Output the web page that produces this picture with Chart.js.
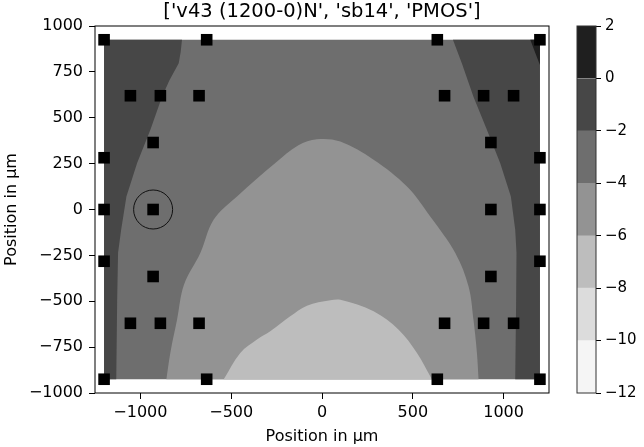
<!DOCTYPE html>
<html>
<head>
<meta charset="utf-8">
<script src="https://cdn.jsdelivr.net/npm/chart.js@4.4.0/dist/chart.umd.min.js"></script>
<style>
body { margin: 0; background: #fff; overflow: hidden; }
#wrap { position: relative; width: 644px; height: 447px; }
#wrap canvas { position: absolute; left: 0; top: 0; }
</style>
</head>
<body>
<div id="wrap">
  <canvas id="map" width="644" height="447"></canvas>
  <canvas id="bar" width="644" height="447"></canvas>
</div>
<script>
const titleText = "['v43 (1200-0)N', 'sb14', 'PMOS']";
const axisLabel = 'Position in µm';
const xTicks = [-1000, -500, 0, 500, 1000];
const yTicks = [-1000, -750, -500, -250, 0, 250, 500, 750, 1000];

// contour levels and the grey of each band (bottom band first)
const levels = [-12, -10, -8, -6, -4, -2, 0, 2];
const levelColors = ['#f5f5f5', '#dcdcdc', '#bdbdbd', '#939393', '#6e6e6e', '#474747', '#1f1f1f'];

// the measured field covers this rectangle
const fieldX = [-1200, 1200];
const fieldY = [-925, 925];

// contour lines, [x, y] in µm
const lineM2Left = [[-771, 925], [-778, 860], [-789, 797], [-840, 705], [-881, 615], [-945, 434], [-1018, 254],
  [-1077, 71], [-1106, -110], [-1123, -236], [-1128, -500], [-1133, -925]];
const lineM2Right = [[721, 925], [770, 797], [834, 615], [908, 434], [981, 254], [1040, 71],
  [1064, -110], [1071, -236], [1069, -500], [1064, -925]];
const line0Corner = [[1147, 925], [1200, 925], [1200, 788], [1172, 860]];
const lineM4 = [[-857, -925], [-835, -780], [-798, -600], [-760, -410], [-670, -237], [-597, -56],
  [-468, 71], [-257, 253], [-130, 350], [-28, 383], [101, 370], [284, 271], [468, 125],
  [596, -38], [734, -237], [807, -419], [834, -600], [853, -780], [862, -925]];
const lineM6 = [[-541, -925], [-450, -782], [-358, -709], [-285, -664], [-175, -582], [-83, -524],
  [46, -495], [101, -492], [284, -555], [422, -655], [523, -782], [596, -909], [605, -925]];

// sensor positions
const sensorX = [-1200, -635, 635, 1200,
  -1055, -890, -677, 675, 890, 1055,
  -930, 930,
  -1200, 1200,
  -1200, -930, 930, 1200,
  -1200, 1200,
  -930, 930,
  -1055, -890, -677, 675, 890, 1055,
  -1200, -635, 635, 1200];
const sensorY = [925, 925, 925, 925,
  620, 620, 620, 620, 620, 620,
  365, 365,
  282, 282,
  0, 0, 0, 0,
  -282, -282,
  -365, -365,
  -620, -620, -620, -620, -620, -620,
  -925, -925, -925, -925];
const markedX = [-930];
const markedY = [0];

const font = 'DejaVu Sans';
const fmt = v => String(v).replace('-', '\u2212');
const pts = arr => arr.map(p => ({x: p[0], y: p[1]}));

const fieldRect = [[fieldX[0], fieldY[0]], [fieldX[1], fieldY[0]], [fieldX[1], fieldY[1]], [fieldX[0], fieldY[1]]];
const leftShape = [[fieldX[0], fieldY[1]], ...lineM2Left, [fieldX[0], fieldY[0]]];
const rightShape = [...lineM2Right, [fieldX[1], fieldY[0]], [fieldX[1], fieldY[1]]];

function region(arr, color, order, tension) {
  return {
    data: pts(arr), showLine: true, fill: 'shape', backgroundColor: color,
    borderWidth: 0, pointRadius: 0, tension: tension || 0, order: order
  };
}

const frame = {
  id: 'frame',
  afterDraw(chart, args, opts) {
    const a = chart.chartArea, c = chart.ctx;
    c.save();
    c.strokeStyle = opts.color || '#000';
    c.lineWidth = 1;
    c.strokeRect(a.left, a.top, a.right - a.left, a.bottom - a.top);
    c.restore();
  }
};

new Chart(document.getElementById('map'), {
  type: 'scatter',
  data: {
    datasets: [
      {
        data: sensorX.map((x, i) => ({x: x, y: sensorY[i]})),
        pointStyle: 'rect', pointRadius: 8.2, backgroundColor: '#000', borderWidth: 0, order: 0
      },
      {
        data: markedX.map((x, i) => ({x: x, y: markedY[i]})),
        pointStyle: 'circle', pointRadius: 19.5, backgroundColor: 'rgba(0,0,0,0)',
        borderColor: '#111', borderWidth: 1, order: 1
      },
      region(lineM6, levelColors[2], 2, 0.35),
      region(lineM4, levelColors[3], 3, 0.35),
      region(line0Corner, levelColors[6], 4),
      region(rightShape, levelColors[5], 5),
      region(leftShape, levelColors[5], 6),
      region(fieldRect, levelColors[4], 7)
    ]
  },
  options: {
    responsive: false,
    animation: false,
    events: [],
    layout: { padding: { left: 0, right: 95, top: 0, bottom: 0 } },
    plugins: {
      legend: { display: false },
      tooltip: { enabled: false },
      title: {
        display: true, text: titleText, fullSize: false, color: '#000',
        font: { family: font, size: 19.5, weight: 'normal', lineHeight: 1.2 },
        padding: { top: 0, bottom: 2.6 }
      }
    },
    scales: {
      x: {
        type: 'linear', min: -1250, max: 1250,
        afterBuildTicks: s => { s.ticks = xTicks.map(v => ({value: v})); },
        afterFit: s => { s.height = 54; },
        grid: { drawOnChartArea: false, color: '#000', tickLength: 6 },
        border: { display: false },
        ticks: { color: '#000', font: { family: font, size: 16 }, padding: 4, maxRotation: 0, callback: fmt },
        title: { display: true, text: axisLabel, color: '#000', font: { family: font, size: 16, lineHeight: 1 }, padding: { top: 0, bottom: 2 } }
      },
      y: {
        type: 'linear', min: -1000, max: 1000,
        afterBuildTicks: s => { s.ticks = yTicks.map(v => ({value: v})); },
        afterFit: s => { s.width = 95; },
        grid: { drawOnChartArea: false, color: '#000', tickLength: 6 },
        border: { display: false },
        ticks: { color: '#000', font: { family: font, size: 16 }, padding: 6, callback: fmt },
        title: { display: true, text: axisLabel, color: '#000', font: { family: font, size: 16, lineHeight: 1 }, padding: { top: 4, bottom: 0 } }
      }
    }
  },
  plugins: [frame]
});

// colour bar
new Chart(document.getElementById('bar'), {
  type: 'bar',
  data: {
    labels: ['bar'],
    datasets: levelColors.map((c, i) => ({
      data: [[levels[i], levels[i + 1]]], backgroundColor: c, borderWidth: 0,
      grouped: false, barPercentage: 1, categoryPercentage: 1
    }))
  },
  options: {
    responsive: false,
    animation: false,
    events: [],
    layout: { padding: { left: 577, right: 0, top: 26, bottom: 54 } },
    plugins: { legend: { display: false }, tooltip: { enabled: false }, frame: { color: '#333' } },
    scales: {
      x: { display: false },
      y: {
        position: 'right', min: levels[0], max: levels[levels.length - 1],
        afterBuildTicks: s => { s.ticks = levels.map(v => ({value: v})); },
        afterFit: s => { s.width = 48; },
        grid: { drawOnChartArea: false, color: '#000', tickLength: 5 },
        border: { display: false },
        ticks: { color: '#000', font: { family: font, size: 15 }, padding: 4, callback: fmt }
      }
    }
  },
  plugins: [frame]
});
</script>
</body>
</html>
